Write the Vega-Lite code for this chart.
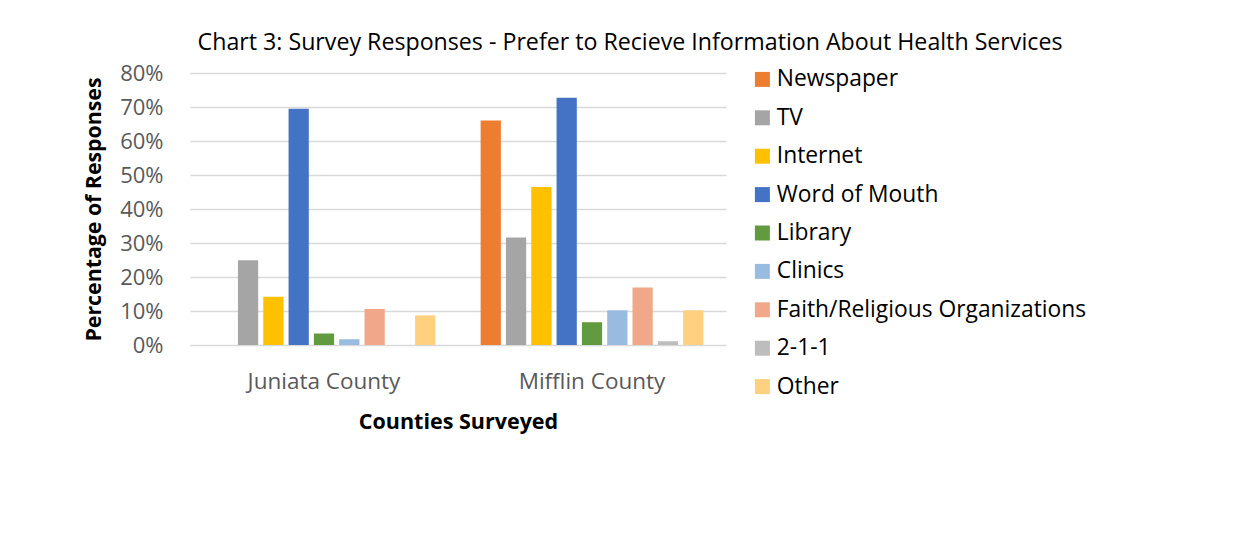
{
  "$schema": "https://vega.github.io/schema/vega-lite/v6.json",
  "width": 536,
  "height": 272,
  "autosize": {"type": "none"},
  "padding": {"left": 190, "top": 73, "right": 522, "bottom": 201},
  "background": "white",
  "title": {
    "text": "Chart 3: Survey Responses - Prefer to Recieve Information About Health Services",
    "anchor": "middle",
    "frame": "group",
    "dx": 172,
    "offset": 7,
    "font": "Open Sans",
    "fontSize": 23.2,
    "fontWeight": "normal",
    "color": "#000000"
  },
  "data": {
    "values": [
      {"county": "Juniata County", "source": "Newspaper", "pct": 0},
      {"county": "Juniata County", "source": "TV", "pct": 0.249},
      {"county": "Juniata County", "source": "Internet", "pct": 0.142},
      {"county": "Juniata County", "source": "Word of Mouth", "pct": 0.695},
      {"county": "Juniata County", "source": "Library", "pct": 0.034},
      {"county": "Juniata County", "source": "Clinics", "pct": 0.017},
      {"county": "Juniata County", "source": "Faith/Religious Organizations", "pct": 0.106},
      {"county": "Juniata County", "source": "2-1-1", "pct": 0},
      {"county": "Juniata County", "source": "Other", "pct": 0.087},
      {"county": "Mifflin County", "source": "Newspaper", "pct": 0.66},
      {"county": "Mifflin County", "source": "TV", "pct": 0.316},
      {"county": "Mifflin County", "source": "Internet", "pct": 0.465},
      {"county": "Mifflin County", "source": "Word of Mouth", "pct": 0.727},
      {"county": "Mifflin County", "source": "Library", "pct": 0.067},
      {"county": "Mifflin County", "source": "Clinics", "pct": 0.102},
      {"county": "Mifflin County", "source": "Faith/Religious Organizations", "pct": 0.169},
      {"county": "Mifflin County", "source": "2-1-1", "pct": 0.011},
      {"county": "Mifflin County", "source": "Other", "pct": 0.102}
    ]
  },
  "mark": {"type": "bar"},
  "encoding": {
    "x": {
      "field": "county",
      "type": "nominal",
      "scale": {"paddingInner": 0.15, "paddingOuter": 0.075},
      "axis": {
        "title": "Counties Surveyed",
        "titleFont": "Open Sans",
        "titleFontSize": 21.5,
        "titleFontWeight": "bold",
        "titleColor": "#000000",
        "titlePadding": 19,
        "labelAngle": 0,
        "labelFont": "Open Sans",
        "labelFontSize": 22.5,
        "labelColor": "#595959",
        "labelPadding": 25,
        "domain": false,
        "ticks": false
      }
    },
    "xOffset": {
      "field": "source",
      "type": "nominal",
      "sort": ["Newspaper", "TV", "Internet", "Word of Mouth", "Library", "Clinics", "Faith/Religious Organizations", "2-1-1", "Other"],
      "scale": {"paddingInner": 0.2, "paddingOuter": 0.1}
    },
    "y": {
      "field": "pct",
      "type": "quantitative",
      "scale": {"domain": [0, 0.8], "nice": false},
      "axis": {
        "title": "Percentage of Responses",
        "titleFont": "Open Sans",
        "titleFontSize": 21.3,
        "titleFontWeight": "bold",
        "titleColor": "#000000",
        "titlePadding": 15,
        "format": ".0%",
        "values": [0, 0.1, 0.2, 0.3, 0.4, 0.5, 0.6, 0.7, 0.8],
        "labelFont": "Open Sans",
        "labelFontSize": 22,
        "labelColor": "#595959",
        "labelPadding": 27,
        "domain": false,
        "ticks": false,
        "gridColor": "#d9d9d9",
        "gridWidth": 1.5
      }
    },
    "color": {
      "field": "source",
      "type": "nominal",
      "sort": ["Newspaper", "TV", "Internet", "Word of Mouth", "Library", "Clinics", "Faith/Religious Organizations", "2-1-1", "Other"],
      "scale": {
        "domain": ["Newspaper", "TV", "Internet", "Word of Mouth", "Library", "Clinics", "Faith/Religious Organizations", "2-1-1", "Other"],
        "range": ["#ED7D31", "#A5A5A5", "#FFC000", "#4472C4", "#629B3F", "#9ABBE0", "#F1A88A", "#BDBDBD", "#FFD07F"]
      },
      "legend": {
        "title": null,
        "orient": "none",
        "legendX": 561,
        "legendY": -5,
        "symbolType": "square",
        "symbolSize": 225,
        "symbolStrokeWidth": 0,
        "labelFont": "Open Sans",
        "labelFontSize": 22.8,
        "labelColor": "#000000",
        "labelOffset": 3,
        "rowPadding": 14.4,
        "labelLimit": 400
      }
    }
  },
  "config": {
    "view": {"stroke": null}
  }
}
